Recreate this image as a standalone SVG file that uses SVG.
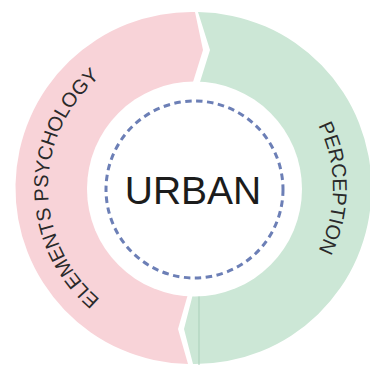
<svg xmlns="http://www.w3.org/2000/svg" width="370" height="365" viewBox="0 0 370 365">
  <style>
    .ring-pink { fill: #f8d3d8; }
    .ring-green { fill: #cce7d6; }
    .seam { stroke: #a9cfb9; stroke-width: 1; fill: none; }
    .arc-label { font-family: "Liberation Sans", Arial, sans-serif; font-size: 20px; fill: #2a2a2a; }
    .hub { fill: #ffffff; }
    .hub-dash { fill: none; stroke: #6c7fb6; stroke-width: 3; stroke-dasharray: 6.5 4.5; }
    .hub-label { font-family: "Liberation Sans", Arial, sans-serif; font-size: 39px; fill: #1c1c1c; }
  </style>
  <defs>
    <path id="leftArc" d="M 193 333 A 145 145 0 0 1 193 43"/>
    <path id="rightArc" d="M 193 48 A 140 140 0 0 1 193 328"/>
  </defs>
  <rect width="370" height="365" fill="#ffffff"/>

  <g id="node-elements-psychology">
    <path class="ring-pink" d="M 195 12 A 176 176 0 0 0 188 364 L 178 329 L 188 294 L 193 82 L 203 50 Z"/>
    <text class="arc-label"><textPath href="#leftArc" startOffset="50%" text-anchor="middle">ELEMENTS PSYCHOLOGY</textPath></text>
  </g>

  <g id="node-perception">
    <path class="ring-green" d="M 198 12 A 176 176 0 0 1 193 364 L 184 329 L 193 294 L 200 82 L 210 50 Z"/>
    <line class="seam" x1="199" y1="294" x2="199" y2="365"/>
    <text class="arc-label"><textPath href="#rightArc" startOffset="50%" text-anchor="middle">PERCEPTION</textPath></text>
  </g>

  <g id="node-urban">
    <circle class="hub" cx="194.5" cy="189" r="107.5"/>
    <circle class="hub-dash" cx="194.5" cy="189.5" r="88.5"/>
    <text class="hub-label" x="193" y="204" text-anchor="middle">URBAN</text>
  </g>

  <g id="connectors"/>
</svg>
